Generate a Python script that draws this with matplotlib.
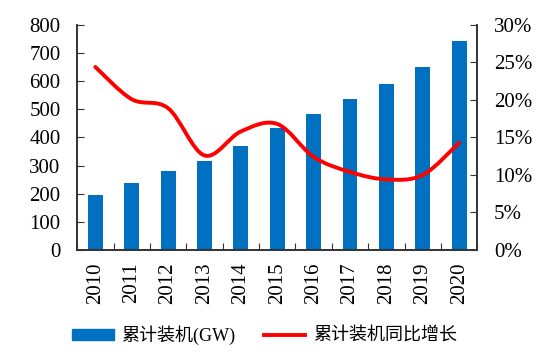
import matplotlib
matplotlib.use('Agg')
import matplotlib.pyplot as plt
import numpy as np
from matplotlib.path import Path
from matplotlib.patches import PathPatch
from matplotlib.lines import Line2D
from matplotlib.ticker import FuncFormatter

plt.rcParams['font.family'] = ['Liberation Serif', 'Noto Sans CJK SC', 'DejaVu Sans']

years = ['2010', '2011', '2012', '2013', '2014', '2015',
         '2016', '2017', '2018', '2019', '2020']
capacity_gw = [197, 237, 281, 316, 370, 433, 485, 537, 589, 650, 742]
growth_pct = [24.4, 20.1, 18.9, 12.6, 15.8, 16.8, 12.4, 10.4, 9.4, 10.0, 14.3]

bar_color = '#0070C0'
line_color = '#FF0000'
spine_color = '#333333'


def smooth_path(xs, ys):
    # Catmull-Rom style bezier path, like Excel's "smoothed line"
    pts = np.column_stack([xs, ys]).astype(float)
    verts = [pts[0]]
    codes = [Path.MOVETO]
    n = len(pts)
    for i in range(n - 1):
        p0 = pts[i - 1] if i > 0 else pts[i]
        p1 = pts[i]
        p2 = pts[i + 1]
        p3 = pts[i + 2] if i + 2 < n else pts[i + 1]
        c1 = p1 + (p2 - p0) / 6.0
        c2 = p2 - (p3 - p1) / 6.0
        verts += [c1, c2, p2]
        codes += [Path.CURVE4] * 3
    return Path(verts, codes)


fig = plt.figure(figsize=(5.59, 3.57), dpi=100)
ax = fig.add_axes([0.138, 0.300, 0.716, 0.630])
x = np.arange(len(years))

ax.bar(x, capacity_gw, width=0.41, color=bar_color, zorder=2)
ax.set_xlim(-0.5, len(years) - 0.5)
ax.set_ylim(0, 800)
ax.set_yticks(range(0, 801, 100))

# category boundary ticks (inward), labels at centers
ax.set_xticks(np.arange(-0.5, len(years), 1.0))
ax.set_xticklabels([])
ax.set_xticks(x, minor=True)
ax.set_xticklabels(years, minor=True, rotation=90, fontsize=15)
ax.tick_params(axis='x', which='major', direction='in', length=5, color=spine_color)
ax.tick_params(axis='x', which='minor', length=0, pad=9)
ax.tick_params(axis='y', direction='in', length=5, labelsize=15, color=spine_color, pad=12)

ax.spines['top'].set_visible(False)
for s in ['left', 'right', 'bottom']:
    ax.spines[s].set_color(spine_color)
    ax.spines[s].set_linewidth(1.2)

ax2 = ax.twinx()
ax2.set_ylim(0, 30)
ax2.set_yticks(range(0, 31, 5))
ax2.yaxis.set_major_formatter(FuncFormatter(lambda v, p: f'{int(v)}%'))
ax2.tick_params(axis='y', direction='in', length=5, labelsize=15, color=spine_color, pad=12)
ax2.spines['top'].set_visible(False)
for s in ['left', 'right', 'bottom']:
    ax2.spines[s].set_color(spine_color)
    ax2.spines[s].set_linewidth(1.2)

curve = PathPatch(smooth_path(x, growth_pct), facecolor='none',
                  edgecolor=line_color, linewidth=2.8, capstyle='round', zorder=3)
ax2.add_patch(curve)

handles = [
    plt.Rectangle((0, 0), 1, 1, color=bar_color),
    Line2D([0], [0], color=line_color, linewidth=2.8),
]
fig.legend(handles, ['累计装机(GW)', '累计装机同比增长'],
           loc='center', bbox_to_anchor=(0.473, 0.062), ncol=2, frameon=False,
           fontsize=13, handlelength=2.3, handleheight=0.6, columnspacing=1.6,
           handletextpad=0.4)

fig.savefig('out.png', dpi=100)
